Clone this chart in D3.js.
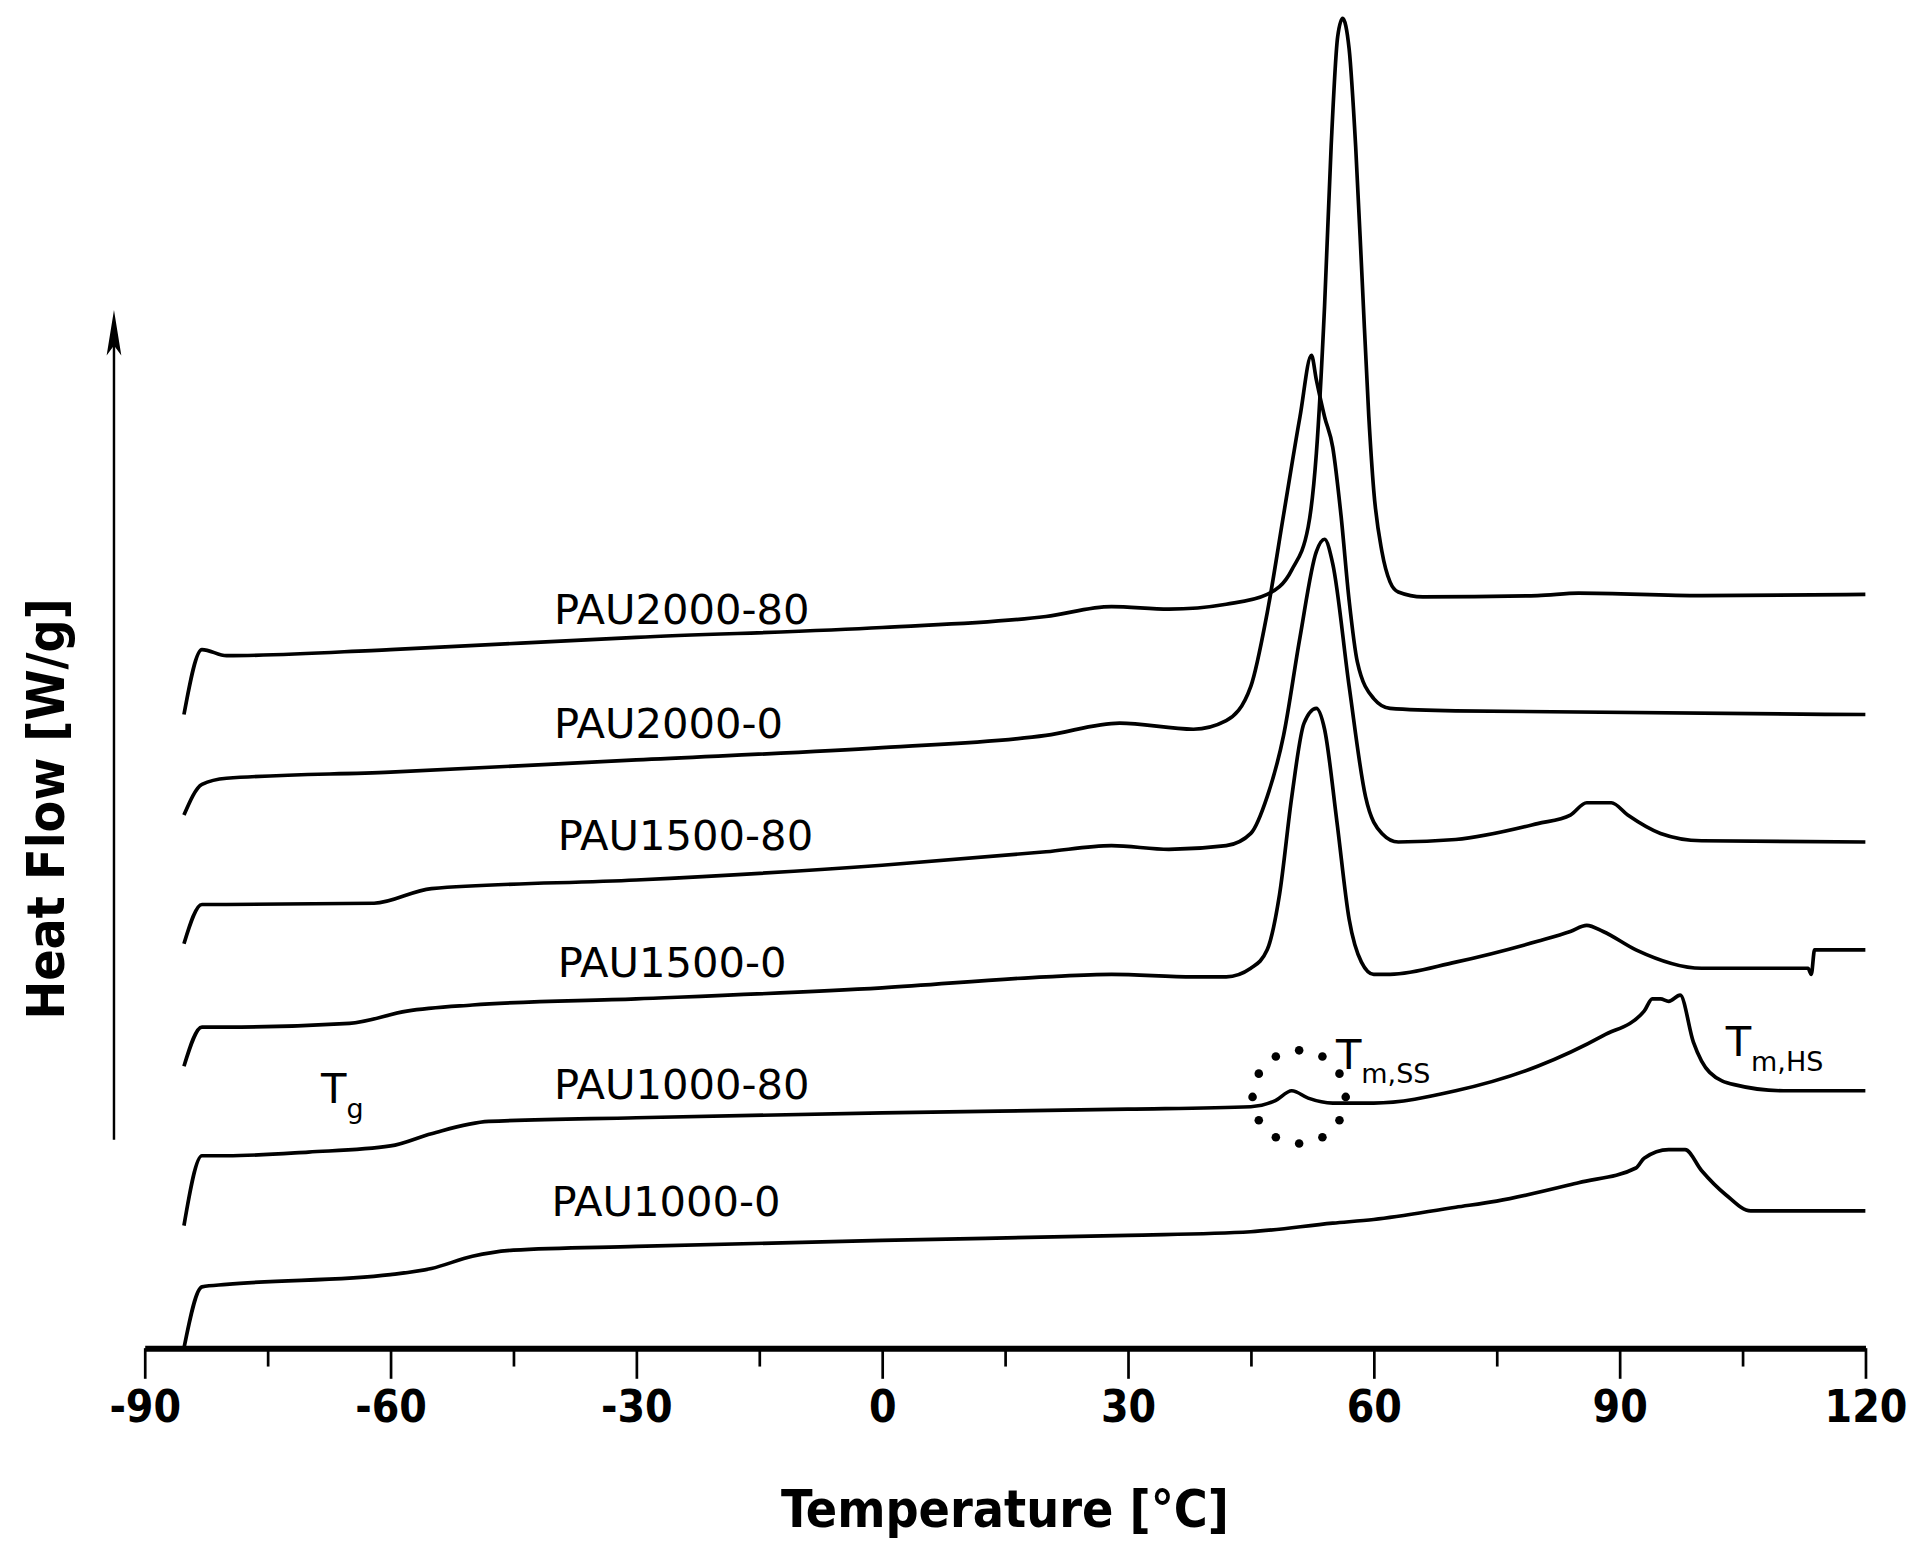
<!DOCTYPE html>
<html><head><meta charset="utf-8">
<script src="https://cdn.jsdelivr.net/npm/d3@7"></script>
<style>body{margin:0;background:#fff}</style></head>
<body><svg id="c" width="1918" height="1548"></svg>
<script>
// temperatures (°C) and heat-flow offsets (arbitrary, stacked)
const t2000_80 = [-85.2,-83,-80,-60,-30,0,20,28,35,42,47,50,52,53,54,54.8,55.6,56.2,57,57.8,58.6,59.4,60,61,62,63,66,80,85,100,120];
const h2000_80 = [517,570,565,570,580,588,597,605,603,607,615,635,670,730,850,980,1070,1085,1060,980,870,760,700,650,625,617,613,614,616,614,615];
const t2000_0 = [-85.2,-83,-80,-60,-30,0,20,29,38,42,45,47,49,51,52.4,53,54,55,56,57,58,60,62,70,120];
const h2000_0 = [435,460,465,470,480,490,500,510,505,512,540,600,680,760,810,790,760,735,680,610,560,530,522,520,517];
const t1500_80 = [-85.2,-83,-80,-62,-55,-30,0,20,28,35,42,45,47,49,51,53,54,55,57,59,61,63,70,80,84,86,89,91,95,100,120];
const h1500_80 = [330,362,362,363,375,382,394,405,410,407,410,420,450,500,580,650,660,640,540,450,420,413,415,428,435,445,445,435,420,414,413];
const t1500_0 = [-85.2,-83,-80,-65,-58,-50,-30,0,20,28,38,42,45,47,48.5,50,51.5,53,54,55.5,57,58.5,60,62,70,80,84,86,88,92,100,113,113.4,113.8,120];
const h1500_0 = [230,262,262,265,275,280,285,294,303,305,303,303,310,325,370,450,510,522,505,430,350,315,305,305,315,332,340,345,340,325,310,310,305,325,325];
const t1000_80 = [-85.2,-83,-80,-70,-60,-55,-48,-30,0,30,45,48,50,52,55,60,70,80,88,93,94,95,96,97.4,99,101,104,110,120];
const h1000_80 = [100,157,157,160,165,175,185,188,192,195,197,202,210,204,200,200,210,230,255,275,285,285,283,288,250,225,215,210,210];
const t1000_0 = [-85.2,-83,-80,-60,-55,-50,-45,-30,0,30,45,55,60,70,75,85,92,93,96,98,100,103,106,110,120];
const h1000_0 = [0,50,52,60,65,75,80,83,88,92,95,102,105,115,120,135,147,155,162,162,145,125,112,112,112];
const series = [
 {name:"PAU2000-80", t:t2000_80, h:h2000_80, lx:452, ly:497},
 {name:"PAU2000-0",  t:t2000_0,  h:h2000_0,  lx:452, ly:590},
 {name:"PAU1500-80", t:t1500_80, h:h1500_80, lx:455, ly:682},
 {name:"PAU1500-0",  t:t1500_0,  h:h1500_0,  lx:455, ly:785},
 {name:"PAU1000-80", t:t1000_80, h:h1000_80, lx:452, ly:885},
 {name:"PAU1000-0",  t:t1000_0,  h:h1000_0,  lx:450, ly:980}
];
const xTicks = [-90,-60,-30,0,30,60,90,120];

const svg = d3.select("#c");
const g = svg.append("g").attr("transform","scale(1.2256)");
const x = d3.scaleLinear().domain([-90,120]).range([118,1522]);
const y = d3.scaleLinear().domain([0,1100]).range([1100,0]);
const bold = "'DejaVu Sans Condensed','DejaVu Sans',sans-serif";

const ax = g.append("g").attr("transform","translate(0,1100)");
ax.call(d3.axisBottom(x).tickValues(d3.range(-90,121,15)).tickSize(0).tickFormat(""));
ax.select(".domain").attr("stroke","#000").attr("stroke-width",5);
ax.selectAll(".tick").append("line").attr("y1",0)
  .attr("y2",d=>d%30===0?25:15).attr("stroke","#000").attr("stroke-width",2.2);
ax.selectAll(".tick").filter(d=>xTicks.includes(d)).append("text")
  .attr("y",60).attr("text-anchor","middle").attr("fill","#000")
  .attr("font-family",bold).attr("font-weight","bold").attr("font-size",36)
  .text(d=>d);
g.append("text").attr("x",820).attr("y",1246).attr("text-anchor","middle")
  .attr("font-family",bold).attr("font-weight","bold").attr("font-size",42)
  .text("Temperature [°C]");
g.append("text").attr("transform","translate(52,660) rotate(-90)").attr("text-anchor","middle")
  .attr("font-family",bold).attr("font-weight","bold").attr("font-size",42)
  .text("Heat Flow [W/g]");
g.append("line").attr("x1",93).attr("y1",930).attr("x2",93).attr("y2",270).attr("stroke","#000").attr("stroke-width",2);
g.append("path").attr("d","M93,253 L87,290 L93,282 L99,290 Z").attr("fill","#000");

const line = d3.line().x(d=>x(d[0])).y(d=>y(d[1])).curve(d3.curveMonotoneX);
series.forEach(s=>{
  g.append("path").attr("d",line(s.t.map((v,i)=>[v,s.h[i]])))
    .attr("fill","none").attr("stroke","#000").attr("stroke-width",3);
  g.append("text").attr("x",s.lx).attr("y",s.ly).attr("dy","0.35em")
    .attr("font-family","'DejaVu Sans',sans-serif").attr("font-size",34).text(s.name);
});

function sub(xx,yy,main,s){
  const t=g.append("text").attr("x",xx).attr("y",yy).attr("font-family","'DejaVu Sans',sans-serif").attr("font-size",34);
  t.append("tspan").text(main);
  t.append("tspan").attr("dy",12).attr("font-size",22).text(s);
}
sub(262,900,"T","g");
sub(1090,872,"T","m,SS");
sub(1408,862,"T","m,HS");
d3.range(12).forEach(i=>{
  const a=i/12*2*Math.PI;
  g.append("circle").attr("cx",1060+38*Math.cos(a)).attr("cy",895+38*Math.sin(a)).attr("r",3.5).attr("fill","#000");
});
</script></body></html>
